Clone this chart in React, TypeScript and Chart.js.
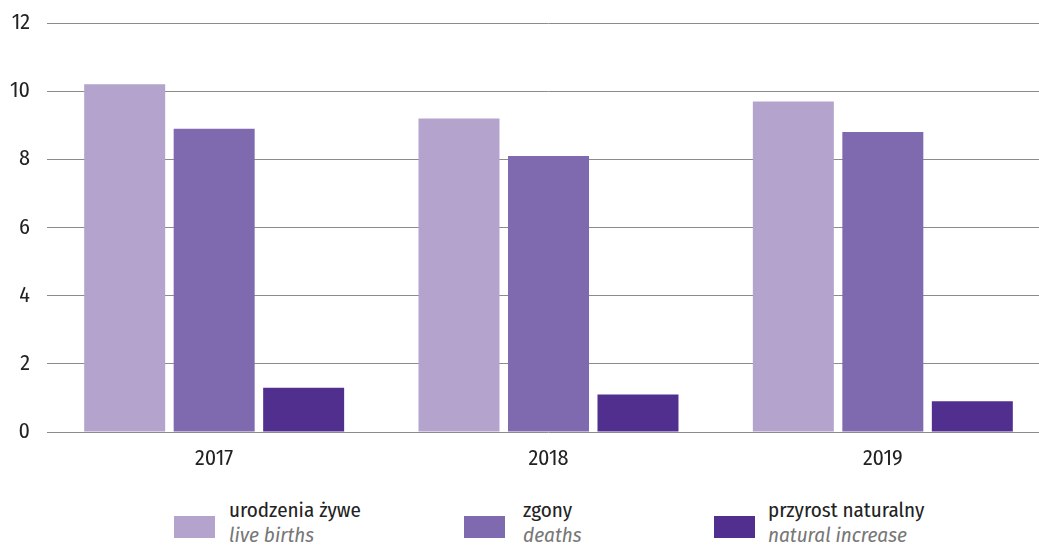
import React, { useEffect, useRef } from "react";
import { Chart, registerables } from "chart.js";

Chart.register(...registerables);

const categories = ["2017", "2018", "2019"];
const liveBirths = [10.2, 9.2, 9.7];
const deaths = [8.9, 8.1, 8.8];
const naturalIncrease = [1.3, 1.1, 0.9];
const seriesPl = ["urodzenia żywe", "zgony", "przyrost naturalny"];
const seriesEn = ["live births", "deaths", "natural increase"];
const colors = ["#b3a3cd", "#7f69af", "#512f8f"];
const yMin = 0;
const yMax = 12;
const yStep = 2;

const FONT = "'Fira Sans Condensed', 'Liberation Sans Narrow', 'DejaVu Sans Condensed', sans-serif";

export default function App() {
  const ref = useRef<HTMLCanvasElement | null>(null);

  useEffect(() => {
    if (!ref.current) return;
    const values = [liveBirths, deaths, naturalIncrease];
    const chart = new Chart(ref.current, {
      type: "bar",
      data: {
        labels: categories,
        datasets: values.map((v, i) => ({
          label: seriesPl[i],
          data: v,
          backgroundColor: colors[i],
          borderWidth: 0,
          categoryPercentage: 0.803,
          barPercentage: 0.905,
        })),
      },
      options: {
        animation: false,
        responsive: false,
        maintainAspectRatio: false,
        layout: { padding: { top: 23, right: 0, bottom: 0, left: 0 } },
        plugins: { legend: { display: false }, tooltip: { enabled: false } },
        scales: {
          x: {
            grid: { display: false, drawTicks: false },
            border: { display: false },
            ticks: { color: "#222", font: { family: FONT, size: 22 }, padding: 14 },
            afterFit: (s: any) => { s.height = 58; s.paddingLeft = 0; s.paddingRight = 0; },
          },
          y: {
            min: yMin,
            max: yMax,
            grid: { color: "#8c8c8c", lineWidth: 1, drawTicks: false },
            border: { display: false },
            ticks: { stepSize: yStep, color: "#222", font: { family: FONT, size: 22 }, padding: 17 },
            afterFit: (s: any) => { s.width = 47; s.paddingTop = 0; s.paddingBottom = 0; },
          },
        },
      },
    });
    return () => chart.destroy();
  }, []);

  const swatchX = [174, 464, 714];
  const textX = [229, 523, 768];

  return (
    <div style={{ position: "fixed", left: 0, top: 0, width: 1050, height: 552, background: "#fff", overflow: "visible" }}>
      <canvas ref={ref} width={1050} height={490} style={{ display: "block", width: 1050, height: 490 }} />
      {seriesPl.map((pl, i) => (
        <React.Fragment key={pl}>
          <div style={{ position: "absolute", left: swatchX[i], top: 516, width: 41, height: 22, background: colors[i] }} />
          <div style={{ position: "absolute", left: textX[i], top: 498, fontFamily: FONT, fontSize: 21, lineHeight: "25px", whiteSpace: "nowrap" }}>
            <div style={{ color: "#222" }}>{pl}</div>
            <div style={{ color: "#777", fontStyle: "italic" }}>{seriesEn[i]}</div>
          </div>
        </React.Fragment>
      ))}
    </div>
  );
}
